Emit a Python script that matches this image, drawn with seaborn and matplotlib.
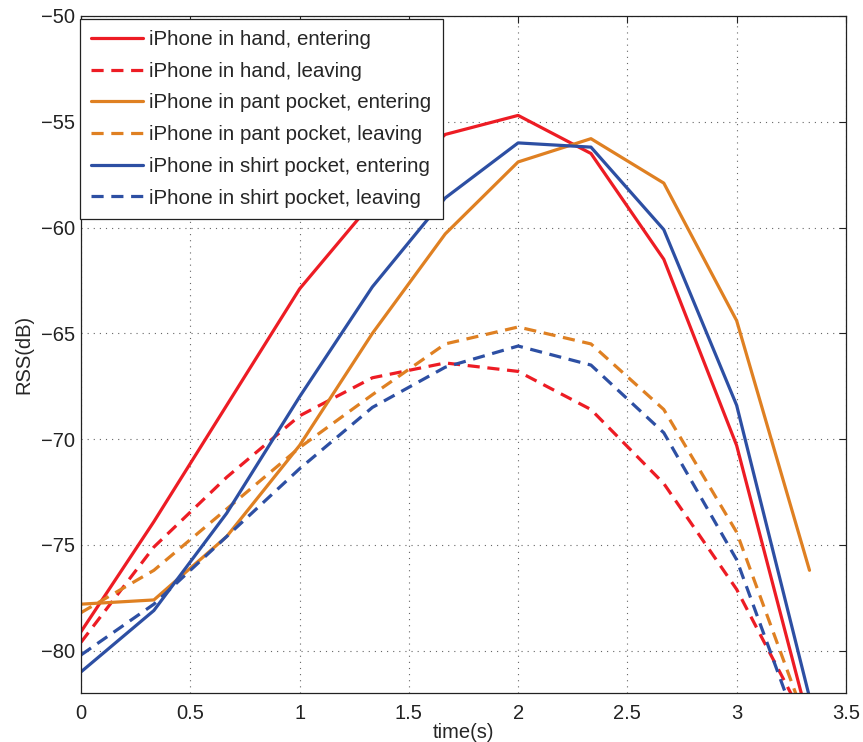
import numpy as np
import pandas as pd
import seaborn as sns
from matplotlib import pyplot as plt

# sample times (s)
time_s = [0, 1/3, 2/3, 1, 4/3, 5/3, 2, 7/3, 8/3, 3, 10/3]

# RSS readings (dB)
hand_enter = [-79.1, -73.9, -68.4, -62.9, -58.8, -55.6, -54.7, -56.5, -61.5, -70.3, -83.5]
hand_leave = [-79.6, -75.1, -71.8, -68.9, -67.1, -66.4, -66.8, -68.6, -72.1, -77.1, -83.7]
pant_enter = [-77.8, -77.6, -74.6, -70.3, -65.0, -60.3, -56.9, -55.8, -57.9, -64.4, -76.2]
pant_leave = [-78.2, -76.2, -73.3, -70.4, -67.9, -65.5, -64.7, -65.5, -68.6, -74.4, -83.8]
shirt_enter = [-81.0, -78.1, -73.5, -68.0, -62.8, -58.6, -56.0, -56.2, -60.1, -68.4, -82.2]
shirt_leave = [-80.2, -77.8, -74.6, -71.4, -68.5, -66.6, -65.6, -66.5, -69.7, -75.7, -85.1]

labels = ['iPhone in hand, entering', 'iPhone in hand, leaving',
          'iPhone in pant pocket, entering', 'iPhone in pant pocket, leaving',
          'iPhone in shirt pocket, entering', 'iPhone in shirt pocket, leaving']
series = [hand_enter, hand_leave, pant_enter, pant_leave, shirt_enter, shirt_leave]

red = '#ED1C24'
orange = '#DF8022'
blue = '#2D4FA3'
colors = dict(zip(labels, [red, red, orange, orange, blue, blue]))
dash_styles = dict(zip(labels, ['', (3.8, 2.4)] * 3))

df = pd.concat([pd.DataFrame({'time': time_s, 'rss': s, 'label': lab})
                for lab, s in zip(labels, series)], ignore_index=True)

sns.set_style('white')
plt.rcParams['font.family'] = ['Liberation Sans', 'DejaVu Sans']
plt.rcParams['axes.unicode_minus'] = True

fig = plt.figure(figsize=(8.63, 7.42), dpi=100)
ax = fig.add_axes([0.0939, 0.066, 0.8863, 0.9125])

sns.lineplot(data=df, x='time', y='rss', hue='label', style='label',
             palette=colors, dashes=dash_styles, hue_order=labels,
             style_order=labels, linewidth=2.3, ax=ax, sort=False)

ax.set_xlim(0, 3.5)
ax.set_ylim(-82, -50)
ax.set_xticks(np.arange(0, 3.51, 0.5))
ax.set_xticklabels(['0', '0.5', '1', '1.5', '2', '2.5', '3', '3.5'])
ax.set_yticks(np.arange(-80, -49, 5))
ax.grid(True, linestyle=(0, (1, 4.5)), color='#666666', linewidth=0.8)
ax.tick_params(direction='in', top=True, right=True, length=5, width=0.8,
               labelsize=14.5, colors='#222222')
ax.tick_params(axis='x', pad=8)
ax.tick_params(axis='y', pad=4)
for sp in ax.spines.values():
    sp.set_color('#222222')
    sp.set_linewidth(0.9)
ax.set_xlabel('time(s)', fontsize=14.5, labelpad=0)
ax.set_ylabel('RSS(dB)', fontsize=14.5, labelpad=6)

leg = ax.legend(loc='upper left', bbox_to_anchor=(-0.002, 0.996), fontsize=14.8,
                frameon=True, fancybox=False, edgecolor='#222222',
                framealpha=1, handlelength=2.55, labelspacing=0.62,
                borderpad=0.55, handletextpad=0.3, borderaxespad=0)
leg.get_frame().set_linewidth(0.9)

fig.savefig('out.png', dpi=100)
